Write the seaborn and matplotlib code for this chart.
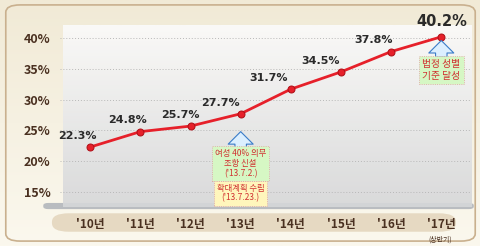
import numpy as np
import pandas as pd
import matplotlib
matplotlib.use("Agg")
import matplotlib.pyplot as plt
from matplotlib.patches import FancyBboxPatch
import seaborn as sns

years = ["'10년", "'11년", "'12년", "'13년", "'14년", "'15년", "'16년", "'17년"]
ratio = [22.3, 24.8, 25.7, 27.7, 31.7, 34.5, 37.8, 40.2]
labels = ["22.3%", "24.8%", "25.7%", "27.7%", "31.7%", "34.5%", "37.8%", "40.2%"]
yticks = [15, 20, 25, 30, 35, 40]
ytick_labels = ["15%", "20%", "25%", "30%", "35%", "40%"]

sns.set_theme(style="white")
plt.rcParams['font.family'] = ['Noto Sans CJK KR', 'DejaVu Sans']

fig = plt.figure(figsize=(4.81, 2.46), dpi=100)
bg = fig.add_axes([0, 0, 1, 1], zorder=-5)
bg.set_axis_off()
grad = np.linspace(0, 1, 100)[:, None]
bg.imshow(grad, extent=[0, 1, 0, 1], aspect='auto',
          cmap=matplotlib.colors.LinearSegmentedColormap.from_list('b', ['#fbf8ee', '#f1ead6']), origin='lower')
bg.add_patch(FancyBboxPatch((0.012, 0.02), 0.976, 0.96, boxstyle="round,pad=0,rounding_size=0.03",
                            fc='none', ec='#c9b08e', lw=1.2, transform=bg.transAxes))
bg.set_xlim(0, 1); bg.set_ylim(0, 1)
bg.add_patch(FancyBboxPatch((0.108, 0.058), 0.84, 0.075, boxstyle="round,pad=0,rounding_size=0.035",
                            fc='#e6d9c2', ec='none', transform=bg.transAxes))
bg.add_patch(FancyBboxPatch((0.09, 0.150), 0.895, 0.025, boxstyle="round,pad=0,rounding_size=0.01",
                            fc='#b9bcc0', ec='none', transform=bg.transAxes))

ax = fig.add_axes([0.125, 0.157, 0.855, 0.776])
ax.patch.set_alpha(0)
ax.imshow(np.linspace(0, 1, 100)[:, None], extent=[-0.55, 7.6, 12.5, 42.0], aspect='auto',
          cmap=matplotlib.colors.LinearSegmentedColormap.from_list('g', ['#d6d7d9', '#fbfbfb']),
          origin='lower', zorder=0, alpha=0.9)

df = pd.DataFrame({"year": years, "ratio": ratio})
sns.lineplot(data=df, x="year", y="ratio", ax=ax, color='#e6202a', lw=2, marker='o',
             markersize=5, markeredgecolor='#b01018', zorder=3, sort=False)

ax.set_xlim(-0.6, 7.6)
ax.set_ylim(12.5, 43.5)
ax.set_yticks(yticks)
ax.set_yticklabels(ytick_labels, fontsize=9, fontweight='bold', color='#4a3020')
ax.set_xticks(range(len(years)))
ax.set_xticklabels(years, fontsize=8.5, fontweight='bold', color='#4a3020')
ax.tick_params(axis='x', pad=8, length=0)
ax.tick_params(axis='y', pad=7, length=0)
for y in yticks:
    ax.axhline(y, color='#b8b8b8', lw=0.7, ls=(0, (1, 2)), zorder=1)
for s in ax.spines.values():
    s.set_visible(False)
ax.set_xlabel(""); ax.set_ylabel("")

offsets = [(-0.25, 1.0), (-0.25, 1.0), (-0.2, 1.0), (-0.4, 1.0), (-0.45, 1.0), (-0.4, 1.0), (-0.35, 1.0), (0.02, 1.3)]
for i, (lab, v) in enumerate(zip(labels, ratio)):
    dx, dy = offsets[i]
    fs = 10.5 if i == 7 else 8
    ax.text(i + dx, v + dy, lab, ha='center', va='bottom', fontsize=fs, fontweight='bold',
            color='#2a2a2a', family=['DejaVu Sans'])

arrow_kw = dict(arrowstyle='simple,head_width=1.2,head_length=0.6,tail_width=0.55',
                fc='#dcefff', ec='#3a7cc8', lw=0.8, shrinkA=0, shrinkB=0, mutation_scale=15)
ax.annotate('', xy=(3, 24.8), xytext=(3, 21.7), arrowprops=arrow_kw, zorder=4)
ax.text(3, 19.6, "여성 40% 의무\n조항 신설\n('13.7.2.)", ha='center', va='center', fontsize=6,
        color='#d03030', linespacing=1.1,
        bbox=dict(boxstyle='square,pad=0.35', fc='#d6f7c4', ec='#e0a0a0', lw=0.6, ls=':'), zorder=5)
ax.text(3, 14.8, "확대계획 수립\n('13.7.23.)", ha='center', va='center', fontsize=6,
        color='#d03030', linespacing=1.1,
        bbox=dict(boxstyle='square,pad=0.35', fc='#fff6bc', ec='#e0a0a0', lw=0.6, ls=':'), zorder=5)
ax.annotate('', xy=(7, 39.6), xytext=(7, 36.9), arrowprops=arrow_kw, zorder=4)
ax.text(7, 34.8, "법정 성별\n기준 달성", ha='center', va='center', fontsize=7,
        color='#d03030', linespacing=1.15,
        bbox=dict(boxstyle='square,pad=0.35', fc='#d6f7c4', ec='#e0a0a0', lw=0.6, ls=':'), zorder=5)

fig.text(440 / 481, 1 - 240 / 246, "(상반기)", ha='center', va='center', fontsize=5, color='#4a3020')

fig.savefig("out.png", dpi=100)
